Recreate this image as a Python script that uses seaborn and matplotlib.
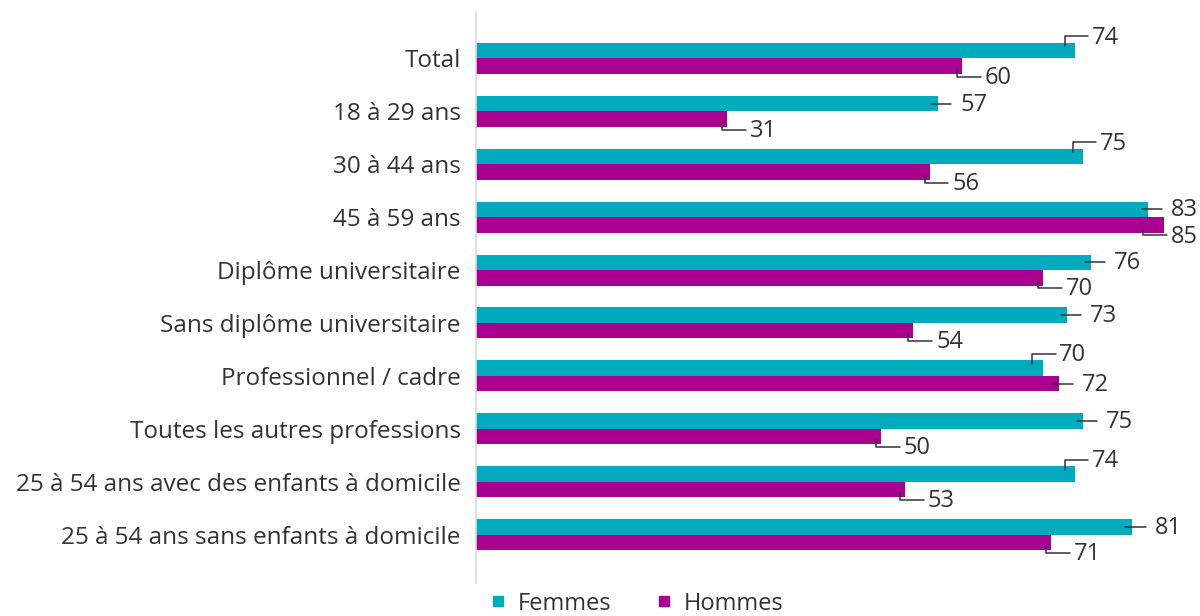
import pandas as pd
import matplotlib
matplotlib.use("Agg")
import matplotlib.pyplot as plt
from matplotlib.lines import Line2D
import seaborn as sns

# --------------------------
# Data
# --------------------------
categories = [
    "Total",
    "18 à 29 ans",
    "30 à 44 ans",
    "45 à 59 ans",
    "Diplôme universitaire",
    "Sans diplôme universitaire",
    "Professionnel / cadre",
    "Toutes les autres professions",
    "25 à 54 ans avec des enfants à domicile",
    "25 à 54 ans sans enfants à domicile",
]
femmes = [74, 57, 75, 83, 76, 73, 70, 75, 74, 81]
hommes = [60, 31, 56, 85, 70, 54, 72, 50, 53, 71]
series = ["Femmes", "Hommes"]

# leader-line style for each label: u = elbow up, d = elbow down, h = straight
femmes_leader = ["u", "h", "u", "h", "h", "h", "u", "h", "u", "h"]
hommes_leader = ["d", "d", "d", "d", "d", "d", "h", "d", "d", "d"]

colors = {"Femmes": "#00abbe", "Hommes": "#a8008f"}

df = pd.DataFrame({
    "Catégorie": categories * 2,
    "Série": ["Femmes"] * len(categories) + ["Hommes"] * len(categories),
    "Valeur": femmes + hommes,
})

# --------------------------
# Plot
# --------------------------
sns.set_style("white")
plt.rcParams["font.family"] = ["Open Sans", "DejaVu Sans"]

fig = plt.figure(figsize=(12, 6.16), dpi=100)
ax = fig.add_axes([0.3967, 0.0536, 0.6033, 0.9254])

sns.barplot(
    data=df, x="Valeur", y="Catégorie", hue="Série",
    order=categories, hue_order=series, palette=colors,
    orient="h", width=0.586, saturation=1, errorbar=None,
    linewidth=0, legend=False, ax=ax,
)

ax.set_xlim(0, 89.4)
ax.set_ylim(9.915, -0.86)
ax.set_xlabel("")
ax.set_ylabel("")
ax.set_xticks([])
for s in ["top", "right", "bottom"]:
    ax.spines[s].set_visible(False)
ax.spines["left"].set_color("#d9d9d9")
ax.spines["left"].set_linewidth(1.2)
ax.tick_params(axis="y", length=0, pad=11, labelsize=17.5, labelcolor="#333333")

half = 0.586 / 4
line_kw = dict(color="#333333", lw=1.1, clip_on=False)
txt_kw = dict(fontsize=17, color="#333333", va="center", clip_on=False)


def label(v, yc, style, shift=0.0):
    if style == "h":
        ax.plot([v - 0.8, v + 1.7], [yc, yc], **line_kw)
        ax.text(v + 2.8, yc + 0.02, str(v), **txt_kw)
    elif style == "u":
        ax.plot([v - 1.3, v - 1.3, v + 1.6], [yc - 0.08, yc - 0.27, yc - 0.27], **line_kw)
        ax.text(v + 2.0, yc - 0.24, str(v), **txt_kw)
    else:
        x0 = v - 0.6 + shift
        ax.plot([x0, x0, x0 + 2.9], [yc + 0.07, yc + 0.2, yc + 0.2], **line_kw)
        ax.text(x0 + 3.4, yc + 0.22, str(v), **txt_kw)


for i in range(len(categories)):
    label(femmes[i], i - half, femmes_leader[i])
    shift = -2.0 if hommes[i] > 83 else 0.0
    label(hommes[i], i + half, hommes_leader[i], shift)

handles = [
    Line2D([], [], marker="s", linestyle="none", markersize=7,
           markerfacecolor=colors[s], markeredgecolor=colors[s])
    for s in series
]
fig.legend(handles, series, loc="lower center", bbox_to_anchor=(0.528, -0.034),
           ncol=2, frameon=False, fontsize=17, handletextpad=0.25,
           handlelength=1.2, columnspacing=1.6, labelcolor="#333333")

plt.savefig("out.png", dpi=100)
plt.close()
